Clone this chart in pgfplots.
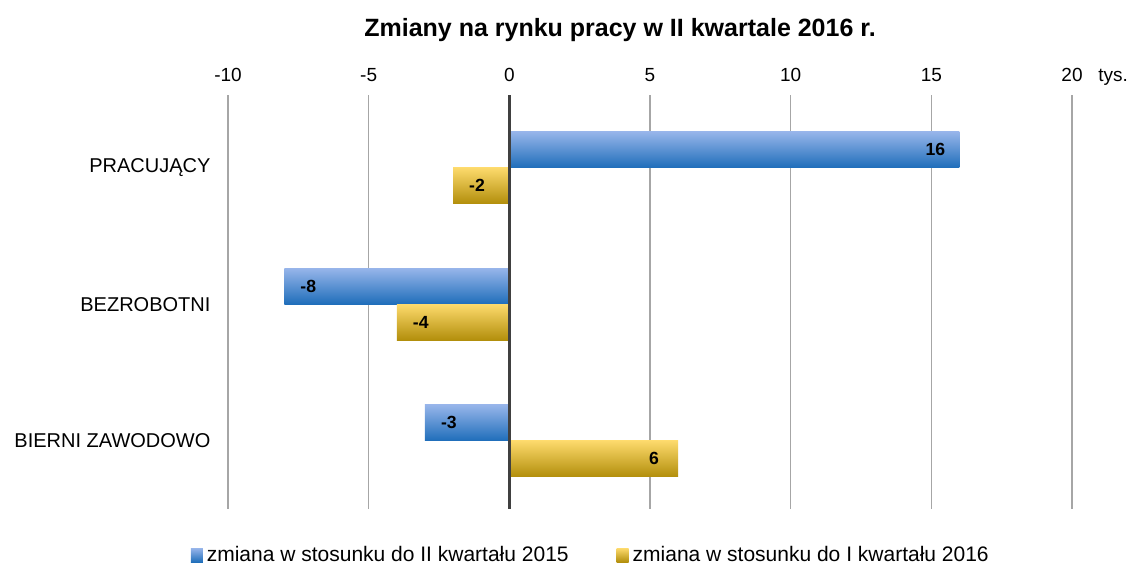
\documentclass[border=0pt]{standalone}
\usepackage{fontspec}
\setmainfont{Liberation Sans}
\usepackage{pgfplots}
\pgfplotsset{compat=1.18}

\definecolor{bluetop}{HTML}{97B5EA}
\definecolor{bluebot}{HTML}{1F6EBA}
\definecolor{goldtop}{HTML}{FDDA6C}
\definecolor{goldbot}{HTML}{B28E0B}
\definecolor{gridgray}{HTML}{A6A6A6}
\definecolor{zeroline}{HTML}{404040}

\pgfplotsset{
  bluebar/.style={draw=none, top color=bluetop, bottom color=bluebot, bar shift=9pt,
    legend image code/.code={\shade[top color=bluetop, bottom color=bluebot] (0pt,-3.5pt) rectangle (6pt,3.5pt);}},
  goldbar/.style={draw=none, top color=goldtop, bottom color=goldbot, bar shift=-9pt,
    legend image code/.code={\shade[top color=goldtop, bottom color=goldbot] (0pt,-3.5pt) rectangle (6pt,3.5pt);}},
}

\begin{document}
\begin{tikzpicture}
\begin{axis}[
    at={(0,0)}, anchor=south west,
    xbar, bar width=18pt, clip=false,
    scale only axis, width=422pt, height=206.8pt,
    xmin=-10, xmax=20, ymin=-0.5, ymax=2.53,
    xtick={-10,-5,0,5,10,15,20},
    xticklabels={-10,-5,0,5,10,15,20},
    xticklabel pos=upper,
    xticklabel style={anchor=base, yshift=7pt, font=\fontsize{9.5}{11}\selectfont},
    ytick={0,1,2},
    yticklabels={BIERNI ZAWODOWO,BEZROBOTNI,PRACUJĄCY},
    yticklabel style={font=\fontsize{10}{12}\selectfont, xshift=-1pt},
    axis line style={draw=none},
    tick style={draw=none},
    xmajorgrids,
    major grid style={gridgray, line width=0.75pt},
    point meta=explicit symbolic,
    nodes near coords,
    visualization depends on=rawx\as\rawx,
    nodes near coords style={anchor=center, xshift={ifthenelse(\rawx<0,12,-12)},
        font=\bfseries\fontsize{8.8}{11}\selectfont},
    legend columns=2,
    legend cell align=left,
    legend style={at={(0.431,-0.1115)}, anchor=center, draw=none, fill=none,
        font=\fontsize{10.5}{12}\selectfont,
        /tikz/every even column/.append style={column sep=22pt}},
]
% zmiana w stosunku do II kwartalu 2015
\addplot[bluebar] coordinates {(16,2) [16]};
\addlegendentry{zmiana w stosunku do II kwartału 2015}
\addplot[bluebar, forget plot] coordinates {(-8,1) [-8]};
\addplot[bluebar, forget plot] coordinates {(-3,0) [-3]};
% zmiana w stosunku do I kwartalu 2016
\addplot[goldbar] coordinates {(-2,2) [-2]};
\addlegendentry{zmiana w stosunku do I kwartału 2016}
\addplot[goldbar, forget plot] coordinates {(-4,1) [-4]};
\addplot[goldbar, forget plot] coordinates {(6,0) [6]};

\draw[zeroline, line width=1.5pt] (axis cs:0,-0.5) -- (axis cs:0,2.53);
\node[anchor=base, font=\bfseries\fontsize{12.5}{14}\selectfont]
    at ([yshift=29.2pt]rel axis cs:0.4645,1) {Zmiany na rynku pracy w II kwartale 2016 r.};
\node[anchor=base west, inner sep=0pt, font=\fontsize{9.5}{11}\selectfont]
    at ([xshift=13pt,yshift=7pt]rel axis cs:1,1) {tys.};
\end{axis}
\pgfresetboundingbox
\useasboundingbox (-114pt,-28pt) rectangle (452.5pt,254.5pt);
\end{tikzpicture}
\end{document}
